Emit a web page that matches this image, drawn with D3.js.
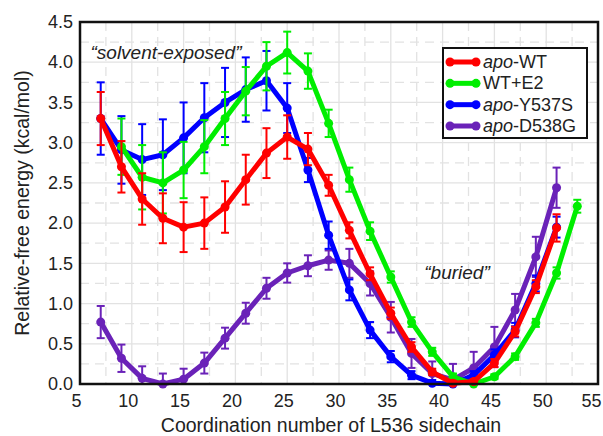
<!DOCTYPE html>
<html lang="en">
	<head>
		<meta charset="utf-8">
		<title>Relative free energy vs coordination number</title>
		<script src="https://d3js.org/d3.v7.min.js"></script>
		<style>
			body {
				margin: 0;
				background: #ffffff;
			}
			text {
				font-family: "Liberation Sans", Arial, sans-serif;
				fill: #222222;
			}
		</style>
	</head>
	<body>
		<div id="chart"></div>
		<script type="text/javascript">
			// data
			var xTicks = [5,10,15,20,25,30,35,40,45,50,55];
			var yTicks = [0.0,0.5,1.0,1.5,2.0,2.5,3.0,3.5,4.0,4.5];

			var wtX = [7,9,11,13,15,17,19,21,23,25,27,29,31,33,35,37,39,41,43,45,47,49,51];
			var wtY = [3.3,2.7,2.3,2.06,1.95,2.0,2.2,2.54,2.87,3.07,2.92,2.47,1.91,1.37,0.88,0.46,0.15,0.01,0.03,0.26,0.65,1.21,1.94];
			var wtErr = [0.33,0.32,0.32,0.31,0.31,0.32,0.32,0.31,0.31,0.27,0.2,0.13,0.1,0.08,0.07,0.06,0.04,0.03,0.03,0.05,0.06,0.08,0.17];

			var e2X = [9,11,13,15,17,19,21,23,25,27,29,31,33,35,37,39,41,43,45,47,49,51,53];
			var e2Y = [2.95,2.57,2.5,2.66,2.95,3.3,3.64,3.95,4.12,3.89,3.24,2.54,1.9,1.33,0.77,0.4,0.09,0.0,0.09,0.34,0.76,1.38,2.21];
			var e2Err = [0.35,0.4,0.38,0.35,0.33,0.33,0.3,0.3,0.26,0.22,0.17,0.15,0.11,0.07,0.06,0.05,0.04,0.03,0.03,0.04,0.05,0.07,0.08];

			var ysX = [7,9,11,13,15,17,19,21,23,25,27,29,31,33,35,37,39,41,43,45,47,49,51];
			var ysY = [3.3,2.91,2.79,2.85,3.06,3.31,3.5,3.66,3.77,3.43,2.66,1.85,1.17,0.67,0.34,0.11,0.01,0.0,0.11,0.36,0.67,1.25,1.95];
			var ysErr = [0.45,0.42,0.44,0.44,0.44,0.43,0.43,0.4,0.37,0.31,0.15,0.17,0.13,0.1,0.07,0.05,0.04,0.03,0.05,0.07,0.09,0.1,0.13];

			var dgX = [7,9,11,13,15,17,19,21,23,25,27,29,31,33,35,37,39,41,43,45,47,49,51];
			var dgY = [0.77,0.32,0.07,0.0,0.06,0.26,0.57,0.88,1.19,1.38,1.47,1.54,1.5,1.25,0.83,0.38,0.13,0.05,0.2,0.46,0.92,1.58,2.44];
			var dgErr = [0.2,0.17,0.15,0.13,0.13,0.13,0.13,0.13,0.13,0.12,0.13,0.12,0.18,0.15,0.19,0.18,0.15,0.2,0.2,0.25,0.2,0.25,0.25];

			var seriesNames = ["apo-WT","WT+E2","apo-Y537S","apo-D538G"];
			var seriesColors = ["#ff0000","#00ee00","#0000ff","#6a22b8"];

			// settings for window
			var w = 603;
			var h = 436;
			var mLeft = 80, mRight = 598, mTop = 22, mBottom = 384;

			var svg = d3.select("#chart").append("svg").attr("width",w).attr("height",h);
			var xScale = d3.scaleLinear().domain([5,55]).range([mLeft,mRight]);
			var yScale = d3.scaleLinear().domain([0,4.5]).range([mBottom,mTop]);

			// background grid
			var grid = svg.append("g").attr("class","grid");
			var gx = d3.range(5,55.01,2.5);
			var gy = d3.range(0,4.51,0.25);
			grid.selectAll("line.gx").data(gx).enter().append("line").attr("class","gx")
				.attr("x1",function(d) { return xScale(d); }).attr("x2",function(d) { return xScale(d); })
				.attr("y1",mTop).attr("y2",mBottom)
				.attr("stroke","#e2e2e2").attr("stroke-width",1.3)
				.attr("stroke-dasharray",function(d) { return d % 5 === 0 ? null : "9,6"; });
			grid.selectAll("line.gy").data(gy).enter().append("line").attr("class","gy")
				.attr("y1",function(d) { return yScale(d); }).attr("y2",function(d) { return yScale(d); })
				.attr("x1",mLeft).attr("x2",mRight)
				.attr("stroke","#e2e2e2").attr("stroke-width",1.3)
				.attr("stroke-dasharray",function(d) { return Math.abs(d*2 - Math.round(d*2)) < 0.01 ? null : "9,6"; });

			// axes (labels only, the frame is drawn separately)
			var xAxis = d3.axisBottom(xScale).tickValues(xTicks).tickSize(0).tickPadding(10).tickFormat(d3.format("d"));
			var yAxis = d3.axisLeft(yScale).tickValues(yTicks).tickSize(0).tickPadding(7).tickFormat(d3.format(".1f"));
			var gxa = svg.append("g").attr("transform","translate(0,"+mBottom+")").call(xAxis);
			var gya = svg.append("g").attr("transform","translate("+mLeft+",0)").call(yAxis);
			[gxa,gya].forEach(function(g) {
				g.select(".domain").remove();
				g.selectAll("text").style("font-size","18px").style("font-family","'Liberation Sans', Arial, sans-serif").attr("fill","#222");
			});
			gxa.selectAll("text").attr("dx",function(d) { return d === 55 ? "-7" : "-4"; });

			// series
			var series = [
				{x: dgX, y: dgY, e: dgErr, c: seriesColors[3]},
				{x: ysX, y: ysY, e: ysErr, c: seriesColors[2]},
				{x: e2X, y: e2Y, e: e2Err, c: seriesColors[1]},
				{x: wtX, y: wtY, e: wtErr, c: seriesColors[0]}
			];
			var line = d3.line().x(function(d) { return xScale(d[0]); }).y(function(d) { return yScale(d[1]); });

			series.forEach(function(s) {
				var pts = s.x.map(function(v,i) { return [v, s.y[i], s.e[i]]; });
				var g = svg.append("g");
				// error bars
				g.selectAll("line.eb").data(pts).enter().append("line").attr("class","eb")
					.attr("x1",function(d) { return xScale(d[0]); }).attr("x2",function(d) { return xScale(d[0]); })
					.attr("y1",function(d) { return yScale(d[1]+d[2]); }).attr("y2",function(d) { return yScale(Math.max(0,d[1]-d[2])); })
					.attr("stroke",s.c).attr("stroke-width",2);
				g.selectAll("line.cap1").data(pts).enter().append("line").attr("class","cap1")
					.attr("x1",function(d) { return xScale(d[0])-4; }).attr("x2",function(d) { return xScale(d[0])+4; })
					.attr("y1",function(d) { return yScale(d[1]+d[2]); }).attr("y2",function(d) { return yScale(d[1]+d[2]); })
					.attr("stroke",s.c).attr("stroke-width",2);
				g.selectAll("line.cap2").data(pts.filter(function(d) { return d[1]-d[2] > 0; })).enter().append("line").attr("class","cap2")
					.attr("x1",function(d) { return xScale(d[0])-4; }).attr("x2",function(d) { return xScale(d[0])+4; })
					.attr("y1",function(d) { return yScale(d[1]-d[2]); }).attr("y2",function(d) { return yScale(d[1]-d[2]); })
					.attr("stroke",s.c).attr("stroke-width",2);
				g.append("path").datum(pts).attr("d",line).attr("fill","none")
					.attr("stroke",s.c).attr("stroke-width",5).attr("stroke-linejoin","round");
				g.selectAll("circle").data(pts).enter().append("circle")
					.attr("cx",function(d) { return xScale(d[0]); })
					.attr("cy",function(d) { return yScale(d[1]); })
					.attr("r",4.5).attr("fill",s.c);
			});

			// frame
			svg.append("rect").attr("x",mLeft).attr("y",mTop).attr("width",mRight-mLeft).attr("height",mBottom-mTop)
				.attr("fill","none").attr("stroke","#111").attr("stroke-width",2.5);

			// annotations
			svg.append("text").attr("x",166).attr("y",59).attr("text-anchor","middle")
				.style("font-size","19px").style("font-style","italic").attr("fill","#444")
				.text("\u201Csolvent-exposed\u201D");
			svg.append("text").attr("x",457).attr("y",279).attr("text-anchor","middle")
				.style("font-size","19px").style("font-style","italic").attr("fill","#444")
				.text("\u201Cburied\u201D");

			// axis titles
			svg.append("text").attr("x",331).attr("y",432).attr("text-anchor","middle")
				.style("font-size","19.5px").text("Coordination number of L536 sidechain");
			svg.append("text").attr("transform","translate(29,203) rotate(-90)").attr("text-anchor","middle")
				.style("font-size","19.5px").text("Relative-free energy (kcal/mol)");

			// legend
			var legend = svg.append("g").attr("class","legend");
			legend.append("rect").attr("x",443).attr("y",48).attr("width",144).attr("height",90)
				.attr("fill","#fff").attr("stroke","#111").attr("stroke-width",2);
			var rowY = d3.scalePoint().domain(seriesNames).range([62,126]);
			seriesNames.forEach(function(name,i) {
				var y = rowY(name);
				legend.append("line").attr("x1",450).attr("x2",476).attr("y1",y).attr("y2",y)
					.attr("stroke",seriesColors[i]).attr("stroke-width",5);
				legend.append("circle").attr("cx",450).attr("cy",y).attr("r",4.5).attr("fill",seriesColors[i]);
				legend.append("circle").attr("cx",476).attr("cy",y).attr("r",4.5).attr("fill",seriesColors[i]);
				var t = legend.append("text").attr("x",483).attr("y",y+6).style("font-size","18px");
				if (name.indexOf("apo-") === 0) {
					t.append("tspan").style("font-style","italic").text("apo");
					t.append("tspan").text(name.slice(3));
				} else {
					t.text(name);
				}
			});
		</script>
	</body>
</html>
